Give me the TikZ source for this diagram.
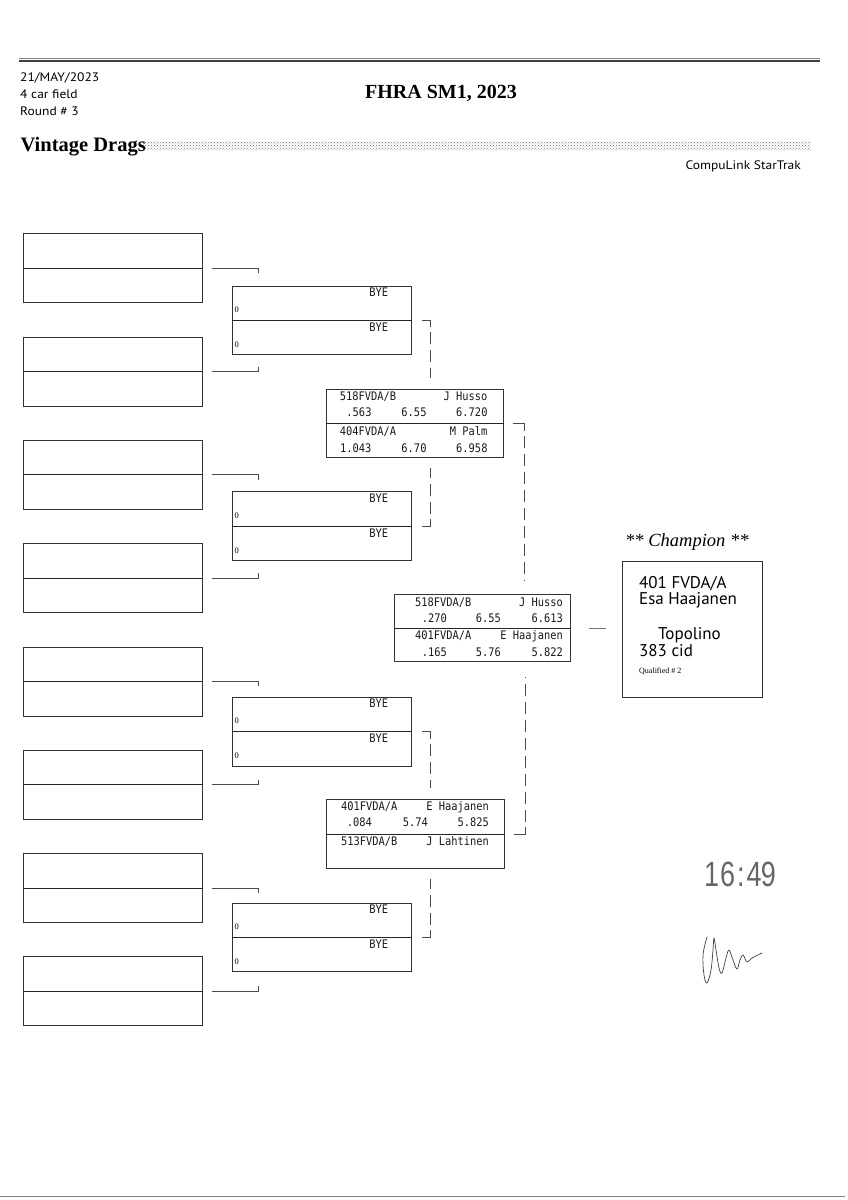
\documentclass[tikz,border=0pt]{standalone}
\usepackage{fontspec}
\setmainfont{Liberation Serif}
\newfontfamily\hdrsans[FakeStretch=1.1]{PT Sans}
\newfontfamily\champf{PT Sans}
\newfontfamily\monof[FakeStretch=0.88]{DejaVu Sans Mono}
\newfontfamily\handf{Liberation Sans}
\usetikzlibrary{calc,patterns}
\tikzset{
  box/.style={draw=black!80, line width=0.8pt, inner sep=0pt, anchor=north west},
  midline/.style={draw=black!85, line width=0.8pt},
  conn/.style={draw=black!70, line width=0.7pt},
  dconn/.style={draw=black!70, line width=0.7pt, dash pattern=on 12pt off 6pt},
  mono/.style={font=\monof\fontsize{11.8}{13}\selectfont, inner sep=0pt, text=black!90},
  tiny0/.style={font=\fontsize{8.5}{9}\selectfont, inner sep=0pt, anchor=base west},
  hdr/.style={font=\hdrsans\fontsize{12.3}{14}\selectfont, inner sep=0pt, anchor=base west},
  champtxt/.style={font=\champf\fontsize{17}{19}\selectfont, inner sep=0pt, anchor=base west},
  sig/.style={draw=black!75, line width=0.7pt, line cap=round, line join=round}
}
\begin{document}
\begin{tikzpicture}[x=1pt,y=-1pt]
\useasboundingbox (0,0) rectangle (848,1200);
% header rules
\draw[line width=0.6pt, black!50] (19,58.3) -- (820,58.3);
\draw[line width=1.6pt, black!75] (19,61) -- (820,61);
\draw[line width=0.9pt, black!50] (0,1196) -- (845,1196);
% header texts
\node[hdr] (date) at (20,81) {21/MAY/2023};
\node[hdr] (field) at (20,98.3) {4 car field};
\node[hdr] (round) at (20,115) {Round \# 3};
\node[font=\bfseries\fontsize{20}{24}\selectfont, inner sep=0pt, anchor=base west] (title) at (365,98.3) {FHRA SM1, 2023};
\node[font=\bfseries\fontsize{20.5}{24}\selectfont, inner sep=0pt, anchor=base west] (class) at (20.5,151) {Vintage Drags};
\fill[pattern=crosshatch dots, pattern color=black!55] (143,141) rectangle (811,150.5);
\node[hdr, anchor=base east] (soft) at (801,169) {CompuLink StarTrak};

% round 1 boxes
\foreach \i/\n in {0/a,1/b,2/c,3/d,4/e,5/f,6/g,7/h}{
  \node[box, minimum width=179pt, minimum height=69pt] (r1\n) at (23,{233.3+103.3*\i}) {};
  \draw[midline] (r1\n.west) -- (r1\n.east);
}
% round 1 connectors
\foreach \t/\b in {a/b,c/d,e/f,g/h}{
  \draw[conn] ($(r1\t.east)+(9,0)$) -- ++(47,0) -- ++(0,5);
  \draw[conn] ($(r1\b.east)+(9,0)$) -- ++(47,0) -- ++(0,-5);
}
% round 2 boxes (BYE)
\foreach \i/\n in {0/a,1/b,2/c,3/d}{
  \node[box, minimum width=178.7pt, minimum height=68.6pt] (r2\n) at (232.3,{285.7+205.6*\i}) {};
  \draw[midline] (r2\n.west) -- (r2\n.east);
  \node[mono, anchor=base east] (r2\n y1) at ($(r2\n.north west)+(156,11)$) {BYE};
  \node[mono, anchor=base east] (r2\n y2) at ($(r2\n.north west)+(156,46)$) {BYE};
  \node[tiny0] (r2\n z1) at ($(r2\n.north west)+(2.2,27)$) {0};
  \node[tiny0] (r2\n z2) at ($(r2\n.north west)+(2.2,62)$) {0};
}
% round 3 boxes
\node[box, minimum width=177.6pt, minimum height=68.3pt] (r3a) at (325.7,389) {};
\draw[midline] (r3a.west) -- (r3a.east);
\node[mono, anchor=base west] (e1) at ($(r3a.north west)+(14,11.7)$) {518FVDA/B};
\node[mono, anchor=base east] (e2) at ($(r3a.north west)+(162,11.7)$) {J Husso};
\node[mono, anchor=base east] (e3) at ($(r3a.north west)+(46,27.7)$) {.563};
\node[mono, anchor=base east] (e4) at ($(r3a.north west)+(101,27.7)$) {6.55};
\node[mono, anchor=base east] (e5) at ($(r3a.north west)+(162,27.7)$) {6.720};
\node[mono, anchor=base west] (e6) at ($(r3a.north west)+(14,46.3)$) {404FVDA/A};
\node[mono, anchor=base east] (e7) at ($(r3a.north west)+(162,46.3)$) {M Palm};
\node[mono, anchor=base east] (e8) at ($(r3a.north west)+(46,63)$) {1.043};
\node[mono, anchor=base east] (e9) at ($(r3a.north west)+(101,63)$) {6.70};
\node[mono, anchor=base east] (e10) at ($(r3a.north west)+(162,63)$) {6.958};

\node[box, minimum width=178.3pt, minimum height=69pt] (r3b) at (326,799.3) {};
\draw[midline] (r3b.west) -- (r3b.east);
\node[mono, anchor=base west] (f1) at ($(r3b.north west)+(15,11.4)$) {401FVDA/A};
\node[mono, anchor=base east] (f2) at ($(r3b.north west)+(163,11.4)$) {E Haajanen};
\node[mono, anchor=base east] (f3) at ($(r3b.north west)+(46,27.4)$) {.084};
\node[mono, anchor=base east] (f4) at ($(r3b.north west)+(102,27.4)$) {5.74};
\node[mono, anchor=base east] (f5) at ($(r3b.north west)+(163,27.4)$) {5.825};
\node[mono, anchor=base west] (f6) at ($(r3b.north west)+(15,45.7)$) {513FVDA/B};
\node[mono, anchor=base east] (f7) at ($(r3b.north west)+(163,45.7)$) {J Lahtinen};

% round 4 box
\node[box, minimum width=176pt, minimum height=67pt] (r4) at (394,594) {};
\draw[midline] (r4.west) -- (r4.east);
\node[mono, anchor=base west] (g1) at ($(r4.north west)+(21,12.5)$) {518FVDA/B};
\node[mono, anchor=base east] (g2) at ($(r4.north west)+(169,12.5)$) {J Husso};
\node[mono, anchor=base east] (g3) at ($(r4.north west)+(53,28.5)$) {.270};
\node[mono, anchor=base east] (g4) at ($(r4.north west)+(107,28.5)$) {6.55};
\node[mono, anchor=base east] (g5) at ($(r4.north west)+(169,28.5)$) {6.613};
\node[mono, anchor=base west] (g6) at ($(r4.north west)+(21,45.5)$) {401FVDA/A};
\node[mono, anchor=base east] (g7) at ($(r4.north west)+(169,45.5)$) {E Haajanen};
\node[mono, anchor=base east] (g8) at ($(r4.north west)+(53,62)$) {.165};
\node[mono, anchor=base east] (g9) at ($(r4.north west)+(107,62)$) {5.76};
\node[mono, anchor=base east] (g10) at ($(r4.north west)+(169,62)$) {5.822};

% round 2 -> round 3 connectors
\foreach \t/\b/\m in {a/b/r3a,c/d/r3b}{
  \coordinate (k\t) at ($(r2\t.east)+(19,0)$);
  \coordinate (k\b) at ($(r2\b.east)+(19,0)$);
  \draw[conn] ($(r2\t.east)+(10,0)$) -- (k\t) -- ++(0,7);
  \draw[dconn] ($(k\t)+(0,12)$) -- ($(k\t |- \m.north)+(0,-11)$);
  \draw[conn] ($(r2\b.east)+(10,0)$) -- (k\b) -- ++(0,-7);
  \draw[dconn] ($(k\b)+(0,-12)$) -- ($(k\b |- \m.south)+(0,10)$);
}
% round 3 -> round 4 connectors
\coordinate (ke) at ($(r3a.east)+(20,0)$);
\coordinate (kf) at ($(r3b.east)+(20,0)$);
\draw[conn] ($(r3a.east)+(9,0)$) -- (ke) -- ++(0,7);
\draw[dconn] ($(ke)+(0,12)$) -- ($(ke |- r4.north)+(0,-14)$);
\draw[conn] ($(r3b.east)+(9,0)$) -- (kf) -- ++(0,-7);
\draw[dconn] ($(kf)+(0,-12)$) -- ($(kf |- r4.south)+(0,15)$);

% champion
\node[font=\itshape\fontsize{18.5}{20}\selectfont, inner sep=0pt, anchor=base west] (champtitle) at (625,546) {** Champion **};
\node[box, minimum width=140.6pt, minimum height=136pt] (champ) at (621.7,560.7) {};
\draw[conn, black!55] ($(r4.east)+(18,0)$) -- ($(r4.east)+(35,0)$);
\node[champtxt] (c1) at (639,588.3) {401 FVDA/A};
\node[champtxt] (c2) at (639,604) {Esa Haajanen};
\node[champtxt] (c3) at (658,639.3) {Topolino};
\node[champtxt] (c4) at (639,656.7) {383 cid};
\node[font=\fontsize{8}{9}\selectfont, inner sep=0pt, anchor=base west] (c5) at (639,673.3) {Qualified \# 2};

% handwriting
\node[font=\handf\fontsize{27}{30}\selectfont, text=black!60, inner sep=0pt, anchor=base west, yscale=1.3] (time) at (704,886) {1\kern1pt6\kern2pt:\kern2pt4\kern-1pt9};
\draw[sig] plot[smooth, tension=0.6] coordinates {(707,937) (703,955) (704,975) (707,983) (711,970) (713,950) (714,938) (716,950) (719,968) (722,973) (726,958) (729,950) (733,960) (737,969) (740,960) (743,955) (747,962) (752,958) (762,953)};
\end{tikzpicture}
\end{document}
